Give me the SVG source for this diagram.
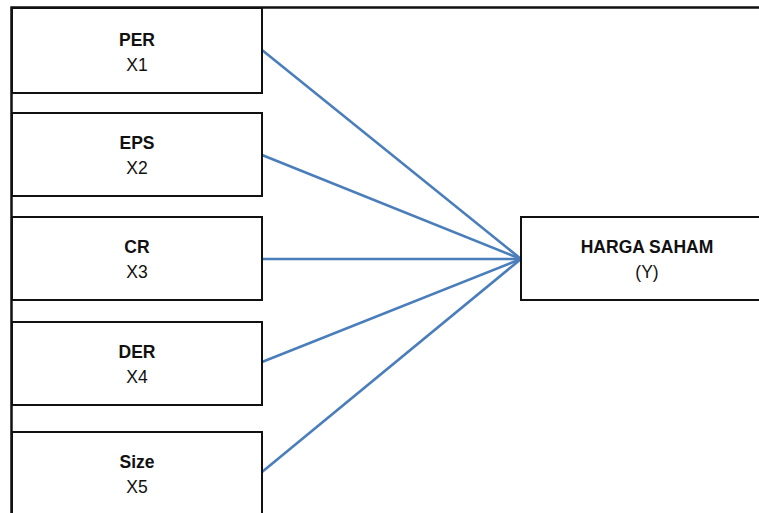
<svg xmlns="http://www.w3.org/2000/svg" width="759" height="513" viewBox="0 0 759 513">
<style>
.box{fill:#fff;stroke:#111;stroke-width:2}
.frame{fill:none;stroke:#111;stroke-width:2.5}
.t{font-family:"Liberation Sans",Arial,sans-serif;font-size:17.5px;fill:#111;text-anchor:middle}
.b{font-weight:bold}
.c{stroke:#4A7EBB;stroke-width:2.6;fill:none}
</style>
<rect width="759" height="513" fill="#fff"/>
<path class="frame" d="M11.5,513 V7.5 H759"/>
<g id="connectors">
<line class="c" x1="262" y1="50" x2="521" y2="259"/>
<line class="c" x1="262" y1="155" x2="521" y2="259"/>
<line class="c" x1="262" y1="259" x2="521" y2="259"/>
<line class="c" x1="262" y1="362" x2="521" y2="259"/>
<line class="c" x1="262" y1="472" x2="521" y2="259"/>
</g>
<g id="per"><rect class="box" x="12" y="8" width="250" height="85"/><text class="t b" x="137" y="46">PER</text><text class="t" x="137" y="71">X1</text></g>
<g id="eps"><rect class="box" x="12" y="113" width="250" height="83"/><text class="t b" x="137" y="149">EPS</text><text class="t" x="137" y="174">X2</text></g>
<g id="cr"><rect class="box" x="12" y="217" width="250" height="83"/><text class="t b" x="137" y="253">CR</text><text class="t" x="137" y="278">X3</text></g>
<g id="der"><rect class="box" x="12" y="322" width="250" height="83"/><text class="t b" x="137" y="358">DER</text><text class="t" x="137" y="383">X4</text></g>
<g id="size"><rect class="box" x="12" y="432" width="250" height="90"/><text class="t b" x="137" y="468">Size</text><text class="t" x="137" y="493">X5</text></g>
<g id="harga"><rect class="box" x="521" y="217" width="252" height="83"/><text class="t b" x="647" y="253">HARGA SAHAM</text><text class="t" x="647" y="278">(Y)</text></g>
</svg>
